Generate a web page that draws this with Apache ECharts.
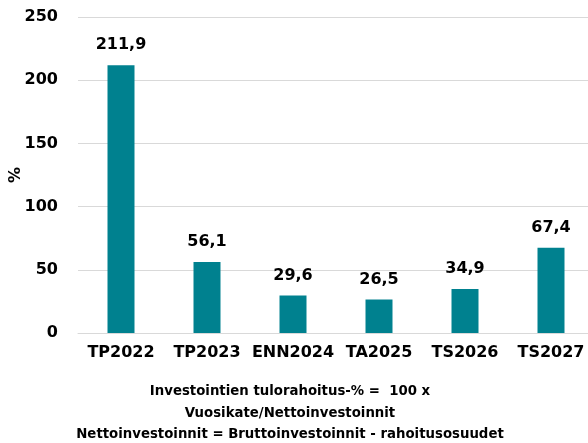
<!DOCTYPE html>
<html>
<head>
<meta charset="utf-8">
<script src="https://cdn.jsdelivr.net/npm/echarts@6/dist/echarts.min.js"></script>
<style>
  html, body { margin: 0; padding: 0; background: #fff; }
  #chart { width: 588px; height: 443px; }
</style>
</head>
<body>
<div id="chart"></div>
<script>
var categories = ['TP2022', 'TP2023', 'ENN2024', 'TA2025', 'TS2026', 'TS2027'];
var values = [211.9, 56.1, 29.6, 26.5, 34.9, 67.4];
var footnote = [
  'Investointien tulorahoitus-% =  100 x',
  'Vuosikate/Nettoinvestoinnit',
  'Nettoinvestoinnit = Bruttoinvestoinnit - rahoitusosuudet'
];

var myChart = echarts.init(document.getElementById('chart'));
var font = '"DejaVu Sans", sans-serif';

myChart.setOption({
  animation: false,
  title: {
    text: footnote.join('\n'),
    left: 285,
    top: 376,
    textAlign: 'center',
    textStyle: {
      fontFamily: font,
      fontWeight: 'bold',
      fontSize: 13.3,
      color: '#000',
      lineHeight: 21.5
    }
  },
  grid: {
    left: 78,
    right: -6,
    top: 17,
    bottom: 110,
    containLabel: false,
    outerBoundsMode: 'none'
  },
  xAxis: {
    type: 'category',
    data: categories,
    axisTick: { show: false },
    axisLine: { lineStyle: { color: '#d9d9d9', width: 1 } },
    axisLabel: {
      interval: 0,
      margin: 12,
      fontFamily: font,
      fontWeight: 'bold',
      fontSize: 16,
      color: '#000'
    }
  },
  yAxis: {
    type: 'value',
    min: 0,
    max: 250,
    interval: 50,
    name: '%',
    nameLocation: 'middle',
    nameGap: 54,
    nameRotate: 90,
    nameMoveOverlap: false,
    nameTextStyle: {
      fontFamily: font,
      fontWeight: 'bold',
      fontSize: 16,
      color: '#000'
    },
    axisLabel: {
      margin: 20,
      fontFamily: font,
      fontWeight: 'bold',
      fontSize: 16,
      color: '#000'
    },
    splitLine: { lineStyle: { color: '#d9d9d9', width: 1 } }
  },
  series: [{
    type: 'bar',
    data: values,
    barWidth: 27,
    itemStyle: { color: '#00818f' },
    label: {
      show: true,
      position: 'top',
      distance: 12,
      fontFamily: font,
      fontWeight: 'bold',
      fontSize: 16,
      color: '#000',
      formatter: function (p) {
        return p.value.toFixed(1).replace('.', ',');
      }
    }
  }]
});
</script>
</body>
</html>
